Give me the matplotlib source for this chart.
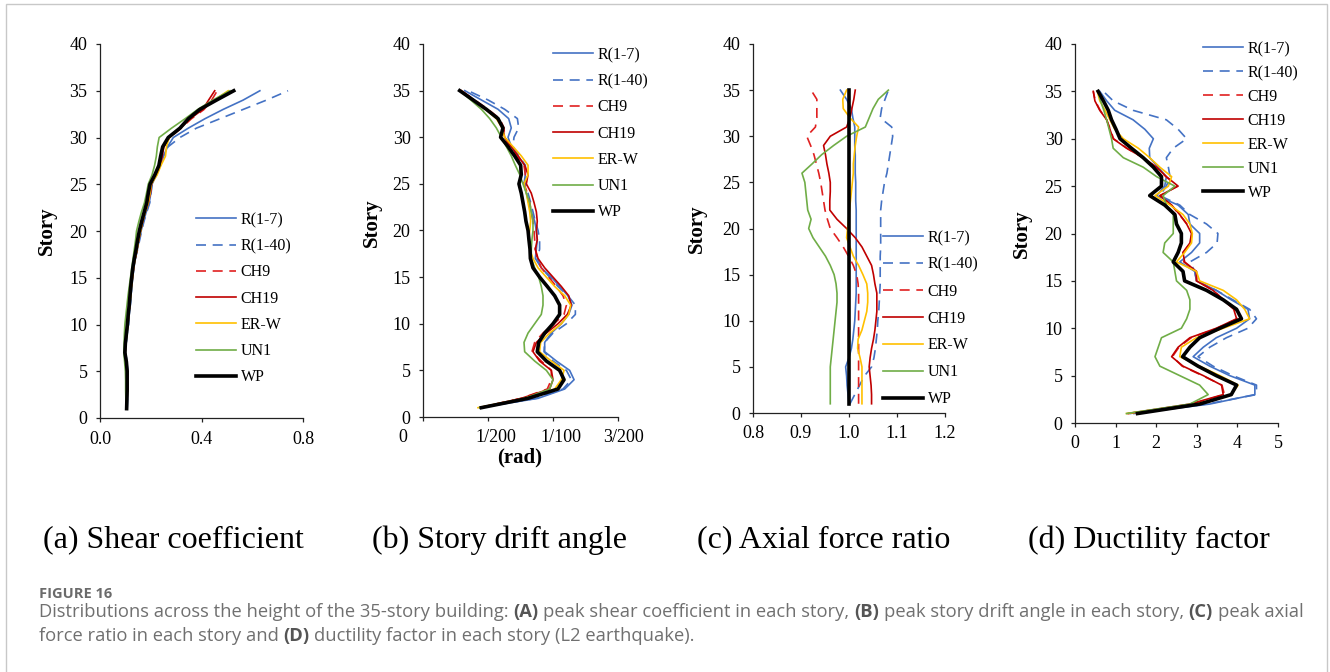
import numpy as np
import matplotlib
matplotlib.use("Agg")
from matplotlib import pyplot as plt
from matplotlib import patches, transforms

# ---------------------------------------------------------------------------------------------------- #
# Data, story 1 .. 35

stories = list(range(1, 36))
series_names = ["R(1-7)", "R(1-40)", "CH9", "CH19", "ER-W", "UN1", "WP"]

# (a) peak shear coefficient
shear_r17 = [0.107, 0.108, 0.109, 0.109, 0.109, 0.106, 0.101, 0.103, 0.107, 0.112, 0.115, 0.119, 0.122, 0.125, 0.129,
             0.133, 0.139, 0.147, 0.154, 0.162, 0.171, 0.182, 0.194, 0.200, 0.205, 0.222, 0.238, 0.250, 0.266, 0.289,
             0.348, 0.413, 0.485, 0.564, 0.630]
shear_r140 = [0.107, 0.108, 0.109, 0.109, 0.109, 0.106, 0.101, 0.103, 0.107, 0.112, 0.115, 0.119, 0.122, 0.125, 0.129,
              0.133, 0.139, 0.148, 0.156, 0.164, 0.173, 0.184, 0.196, 0.201, 0.205, 0.222, 0.238, 0.250, 0.268, 0.315,
              0.380, 0.472, 0.564, 0.656, 0.741]
shear_ch9 = [0.106, 0.107, 0.108, 0.108, 0.108, 0.105, 0.099, 0.101, 0.105, 0.110, 0.113, 0.117, 0.120, 0.123, 0.128,
             0.132, 0.138, 0.146, 0.152, 0.160, 0.168, 0.178, 0.190, 0.198, 0.203, 0.220, 0.236, 0.245, 0.250, 0.275,
             0.320, 0.360, 0.410, 0.440, 0.462]
shear_ch19 = [0.106, 0.107, 0.108, 0.108, 0.108, 0.105, 0.099, 0.101, 0.105, 0.110, 0.113, 0.117, 0.120, 0.123, 0.128,
              0.132, 0.138, 0.146, 0.152, 0.160, 0.168, 0.178, 0.190, 0.198, 0.203, 0.220, 0.236, 0.245, 0.252, 0.272,
              0.318, 0.355, 0.405, 0.428, 0.452]
shear_erw = [0.106, 0.107, 0.108, 0.108, 0.108, 0.105, 0.100, 0.102, 0.106, 0.110, 0.113, 0.117, 0.121, 0.124, 0.128,
             0.132, 0.138, 0.146, 0.152, 0.160, 0.168, 0.178, 0.190, 0.197, 0.202, 0.225, 0.240, 0.258, 0.262, 0.272,
             0.315, 0.350, 0.395, 0.450, 0.505]
shear_un1 = [0.102, 0.102, 0.101, 0.101, 0.100, 0.097, 0.094, 0.095, 0.096, 0.098, 0.102, 0.106, 0.110, 0.115, 0.120,
             0.125, 0.130, 0.135, 0.140, 0.144, 0.153, 0.163, 0.175, 0.183, 0.190, 0.205, 0.215, 0.222, 0.226, 0.233,
             0.282, 0.335, 0.385, 0.445, 0.512]
shear_wp = [0.105, 0.106, 0.107, 0.107, 0.107, 0.104, 0.098, 0.100, 0.104, 0.108, 0.111, 0.115, 0.118, 0.121, 0.125,
            0.129, 0.135, 0.142, 0.148, 0.155, 0.164, 0.174, 0.184, 0.190, 0.197, 0.216, 0.232, 0.239, 0.247, 0.269,
            0.315, 0.348, 0.393, 0.459, 0.527]

# (b) peak story drift angle, in 1/1000 rad
drift_r17 = [4.36, 8.85, 10.90, 11.62, 11.28, 10.26, 9.36, 9.36, 9.87, 10.64, 11.21, 11.46, 11.15, 10.51, 9.87,
             9.10, 8.64, 8.72, 8.79, 8.72, 8.59, 8.33, 8.13, 7.95, 7.77, 7.87, 7.82, 7.31, 6.79, 6.54,
             6.79, 6.59, 5.77, 4.49, 3.21]
drift_r140 = [4.36, 8.72, 10.77, 11.41, 11.03, 10.00, 9.31, 9.36, 10.00, 11.03, 11.72, 11.72, 11.15, 10.38, 9.74,
              9.10, 8.79, 8.97, 8.97, 8.85, 8.64, 8.46, 8.28, 8.08, 7.87, 7.95, 7.87, 7.36, 6.92, 7.00,
              7.36, 7.26, 6.28, 5.00, 3.46]
drift_ch9 = [4.36, 7.56, 9.56, 9.87, 9.87, 9.10, 8.38, 8.59, 9.23, 10.08, 10.85, 11.03, 10.77, 10.26, 9.67,
             9.10, 8.79, 8.64, 8.59, 8.54, 8.46, 8.33, 8.21, 8.03, 7.77, 7.87, 7.77, 7.18, 6.67, 6.28,
             6.23, 5.90, 5.00, 3.97, 2.95]
drift_ch19 = [4.36, 7.56, 9.74, 10.00, 9.87, 8.97, 8.46, 8.72, 9.49, 10.38, 11.10, 11.41, 11.21, 10.64, 10.00,
              9.36, 8.85, 8.64, 8.79, 8.72, 8.79, 8.72, 8.54, 8.33, 7.95, 8.08, 7.82, 7.31, 6.79, 6.28,
              6.15, 5.77, 4.87, 3.92, 2.95]
drift_erw = [4.23, 7.82, 10.13, 10.64, 10.85, 9.87, 8.97, 9.05, 9.74, 10.64, 11.21, 11.36, 10.90, 10.13, 9.49,
             8.85, 8.46, 8.21, 8.13, 8.21, 8.28, 8.21, 8.08, 7.95, 7.77, 8.08, 8.08, 7.56, 6.92, 6.28,
             6.08, 5.64, 4.79, 3.85, 2.90]
drift_un1 = [4.36, 7.82, 9.74, 10.00, 9.49, 8.59, 7.82, 7.77, 8.08, 8.59, 9.10, 9.23, 9.23, 9.10, 8.90,
             8.59, 8.33, 8.33, 8.38, 8.46, 8.46, 8.33, 8.21, 7.95, 7.69, 7.44, 7.10, 6.79, 6.41, 6.03,
             5.64, 5.13, 4.49, 3.67, 2.82]
drift_wp = [4.49, 8.08, 10.38, 10.85, 10.51, 9.49, 8.79, 8.90, 9.36, 10.00, 10.51, 10.51, 10.13, 9.56, 8.97,
            8.46, 8.26, 8.23, 8.15, 8.08, 7.92, 7.82, 7.69, 7.56, 7.38, 7.56, 7.51, 7.05, 6.54, 5.97,
            6.15, 5.77, 4.87, 3.85, 2.82]
drift_ticks = [0, 5, 10, 15]
drift_tick_labels = ["0", "1/200", "1/100", "3/200"]

# (c) peak axial force ratio
axial_r17 = [1.000, 0.998, 0.996, 0.995, 0.993, 1.000, 1.005, 1.008, 1.010, 1.012, 1.013, 1.014, 1.015, 1.015, 1.015,
             1.015, 1.015, 1.015, 1.015, 1.015, 1.015, 1.015, 1.014, 1.014, 1.014, 1.013, 1.013, 1.013, 1.012, 1.012,
             1.012, 1.008, 1.005, 0.995, 0.982]
axial_r140 = [1.002, 1.012, 1.022, 1.032, 1.047, 1.052, 1.055, 1.057, 1.059, 1.060, 1.062, 1.063, 1.064, 1.065, 1.065,
              1.065, 1.065, 1.066, 1.066, 1.066, 1.066, 1.066, 1.068, 1.071, 1.074, 1.079, 1.082, 1.085, 1.088, 1.091,
              1.089, 1.065, 1.068, 1.075, 1.082]
axial_ch9 = [1.020, 1.020, 1.020, 1.020, 1.020, 1.020, 1.020, 1.020, 1.020, 1.020, 1.020, 1.020, 1.020, 1.019, 1.016,
             1.009, 0.999, 0.988, 0.975, 0.961, 0.955, 0.950, 0.947, 0.944, 0.941, 0.937, 0.932, 0.927, 0.920, 0.912,
             0.930, 0.933, 0.933, 0.933, 0.921]
axial_ch19 = [1.047, 1.047, 1.046, 1.044, 1.042, 1.044, 1.047, 1.051, 1.054, 1.056, 1.058, 1.058, 1.058, 1.054, 1.051,
              1.047, 1.037, 1.027, 1.013, 0.995, 0.975, 0.960, 0.960, 0.961, 0.961, 0.958, 0.954, 0.951, 0.947, 0.961,
              0.995, 1.002, 1.006, 1.010, 1.013]
axial_erw = [1.027, 1.027, 1.027, 1.027, 1.027, 1.023, 1.018, 1.019, 1.027, 1.032, 1.037, 1.039, 1.039, 1.037, 1.029,
             1.020, 1.009, 1.002, 0.995, 0.997, 0.999, 1.001, 1.003, 1.005, 1.007, 1.009, 1.009, 1.011, 1.013, 1.016,
             1.020, 1.002, 0.988, 0.987, 0.995]
axial_un1 = [0.961, 0.961, 0.961, 0.961, 0.961, 0.963, 0.965, 0.967, 0.969, 0.971, 0.973, 0.975, 0.975, 0.973, 0.969,
             0.961, 0.951, 0.938, 0.925, 0.916, 0.921, 0.914, 0.912, 0.910, 0.908, 0.902, 0.923, 0.943, 0.968, 0.995,
             1.034, 1.042, 1.050, 1.061, 1.082]
axial_wp = [1.000] * 35

# (d) ductility factor
duct_r17 = [1.45, 3.32, 4.43, 4.43, 3.81, 3.32, 2.91, 3.16, 3.48, 3.98, 4.30, 4.26, 3.85, 3.48, 2.99,
            2.95, 2.58, 2.87, 3.07, 3.07, 2.83, 2.79, 2.54, 2.01, 2.21, 2.25, 2.05, 1.84, 1.83, 1.93,
            1.72, 1.43, 0.98, 0.78, 0.61]
duct_r140 = [1.35, 3.24, 4.47, 4.47, 3.89, 3.40, 3.03, 3.32, 3.73, 4.26, 4.47, 4.30, 3.89, 3.48, 2.99,
             2.95, 2.83, 3.24, 3.50, 3.52, 3.24, 2.83, 2.58, 2.09, 2.25, 2.34, 2.30, 2.25, 2.42, 2.75,
             2.54, 2.25, 1.43, 0.94, 0.70]
duct_ch9 = [1.31, 2.88, 3.68, 3.62, 3.14, 2.64, 2.40, 2.56, 2.86, 3.50, 3.99, 3.93, 3.66, 3.41, 3.00,
            2.99, 2.68, 2.66, 2.84, 2.88, 2.76, 2.57, 2.37, 2.10, 2.52, 2.24, 2.00, 1.67, 1.28, 0.95,
            0.87, 0.78, 0.62, 0.50, 0.45]
duct_ch19 = [1.31, 2.83, 3.65, 3.61, 3.16, 2.66, 2.38, 2.54, 2.83, 3.48, 3.98, 3.91, 3.65, 3.40, 2.99,
             2.99, 2.70, 2.66, 2.83, 2.87, 2.75, 2.58, 2.38, 2.09, 2.54, 2.25, 2.01, 1.68, 1.27, 0.94,
             0.86, 0.78, 0.61, 0.49, 0.45]
duct_erw = [1.27, 2.99, 3.85, 4.02, 3.57, 3.07, 2.58, 2.62, 2.99, 3.65, 4.30, 4.18, 3.98, 3.65, 3.07,
            2.99, 2.50, 2.70, 2.87, 2.89, 2.83, 2.66, 2.34, 1.97, 2.30, 2.38, 2.09, 1.84, 1.56, 1.19,
            0.98, 0.86, 0.74, 0.61, 0.55]
duct_un1 = [1.27, 2.83, 3.28, 3.07, 2.58, 2.09, 1.97, 2.05, 2.13, 2.62, 2.75, 2.83, 2.83, 2.75, 2.50,
            2.46, 2.42, 2.17, 2.21, 2.42, 2.42, 2.42, 2.25, 2.17, 2.46, 2.01, 1.68, 1.19, 0.94, 0.90,
            0.84, 0.78, 0.71, 0.63, 0.57]
duct_wp = [1.54, 3.07, 3.85, 3.98, 3.48, 3.03, 2.65, 2.83, 3.07, 3.57, 4.10, 3.98, 3.65, 3.24, 2.70,
           2.66, 2.42, 2.54, 2.62, 2.62, 2.50, 2.46, 2.21, 1.84, 2.13, 2.13, 1.93, 1.68, 1.39, 1.11,
           1.01, 0.90, 0.82, 0.70, 0.57]

# ---------------------------------------------------------------------------------------------------- #
# Styles

W, H = 1330, 672
SERIF = ["Liberation Serif", "DejaVu Serif"]
plt.rcParams["font.family"] = SERIF

styles = {
    "R(1-7)":  dict(color="#4472C4", lw=1.2, ls="-"),
    "R(1-40)": dict(color="#4472C4", lw=1.2, ls=(0, (6, 4))),
    "CH9":     dict(color="#E02020", lw=1.2, ls=(0, (6, 4))),
    "CH19":    dict(color="#C00000", lw=1.2, ls="-"),
    "ER-W":    dict(color="#FFC000", lw=1.2, ls="-"),
    "UN1":     dict(color="#70AD47", lw=1.2, ls="-"),
    "WP":      dict(color="black", lw=2.6, ls="-"),
}


def px_box(left, top, right, bottom):
    """Axes rectangle from pixel edges (origin top-left)."""
    return [left / W, 1 - bottom / H, (right - left) / W, (bottom - top) / H]


def setup_axes(ax, xlim, xticks, xlabels):
    ax.set_ylim(0, 40)
    ax.set_yticks(range(0, 41, 5))
    ax.set_xlim(*xlim)
    ax.set_xticks(xticks)
    ax.set_xticklabels(xlabels)
    for side in ["top", "right"]:
        ax.spines[side].set_visible(False)
    for side in ["left", "bottom"]:
        ax.spines[side].set_linewidth(0.9)
        ax.spines[side].set_color("#222222")
    ax.tick_params(direction="out", length=3, width=0.9, color="#222222", labelsize=13, pad=6)
    for lab in ax.get_xticklabels() + ax.get_yticklabels():
        lab.set_family(SERIF)
    ax.set_ylabel("Story", fontsize=15, fontweight="bold", family=SERIF)
    ax.patch.set_visible(False)


def draw_panel(ax, series, legend_xy, spacing):
    for name, values in zip(series_names, series):
        ax.plot(values, stories, label=name, **styles[name])
    lx, ly = legend_xy
    ax.legend(loc="upper left", bbox_to_anchor=(lx / W, 1 - ly / H), bbox_transform=fig.transFigure,
              frameon=False, prop=dict(family=SERIF, size=11.5), handlelength=2.5, handletextpad=0.3,
              labelspacing=spacing, borderpad=0, borderaxespad=0)


# ---------------------------------------------------------------------------------------------------- #
# Figure

fig = plt.figure(figsize=(W / 100, H / 100), dpi=100)

ax_a = fig.add_axes(px_box(100, 44, 303, 418))
setup_axes(ax_a, (0, 0.8), [0, 0.4, 0.8], ["0.0", "0.4", "0.8"])
draw_panel(ax_a, [shear_r17, shear_r140, shear_ch9, shear_ch19, shear_erw, shear_un1, shear_wp], (196, 212), 0.64)
ax_a.yaxis.set_label_coords((57 - 100) / 203, 0.5)

ax_b = fig.add_axes(px_box(423, 44, 618, 417))
setup_axes(ax_b, (0, 15), drift_ticks, drift_tick_labels)
draw_panel(ax_b, [drift_r17, drift_r140, drift_ch9, drift_ch19, drift_erw, drift_un1, drift_wp], (553, 47), 0.64)
ax_b.yaxis.set_label_coords((382 - 423) / 195, 0.52)
for lab, dx in zip(ax_b.get_xticklabels(), [-20, 8, 8, 6]):
    lab.set_transform(lab.get_transform() + transforms.ScaledTranslation(dx / 100, 0, fig.dpi_scale_trans))
fig.text(520 / W, 1 - 457 / H, "(rad)", fontsize=15, fontweight="bold", ha="center", va="center", family=SERIF)

ax_c = fig.add_axes(px_box(753, 44, 945, 413))
setup_axes(ax_c, (0.8, 1.2), [0.8, 0.9, 1.0, 1.1, 1.2], ["0.8", "0.9", "1.0", "1.1", "1.2"])
draw_panel(ax_c, [axial_r17, axial_r140, axial_ch9, axial_ch19, axial_erw, axial_un1, axial_wp], (883, 230), 0.68)
ax_c.yaxis.set_label_coords((707 - 753) / 192, 0.5)

ax_d = fig.add_axes(px_box(1075, 44, 1278, 423))
setup_axes(ax_d, (0, 5), range(0, 6), [str(i) for i in range(6)])
draw_panel(ax_d, [duct_r17, duct_r140, duct_ch9, duct_ch19, duct_erw, duct_un1, duct_wp], (1203, 41), 0.50)
ax_d.yaxis.set_label_coords((1032 - 1075) / 203, 0.5)

# panel captions
for cx, text in [(173, "(a) Shear coefficient"), (500, "(b) Story drift angle"),
                 (824, "(c) Axial force ratio"), (1149, "(d) Ductility factor")]:
    fig.text(cx / W, 1 - 540 / H, text, fontsize=23, ha="center", va="center", family=SERIF)

# border of the figure frame
fig.patches.append(patches.Rectangle((6 / W, -0.1), 1321 / W, 1.1 - 4 / H, transform=fig.transFigure,
                                     fill=False, edgecolor="#c8c8c8", lw=1.0))

# figure caption, with bold parts
cap_font = ["Open Sans", "DejaVu Sans"]
cap_size = 13.2
fig.text(39 / W, 1 - 594 / H, "FIGURE 16", fontsize=10.5, fontweight="bold", color="#6b6b6b",
         family=cap_font, va="center")

renderer = fig.canvas.get_renderer()


def text_width(s, weight):
    t = fig.text(0, 0, s, fontsize=cap_size, fontweight=weight, family=cap_font)
    w = t.get_window_extent(renderer).width
    t.remove()
    return w


space_w = text_width("a a", "normal") - text_width("aa", "normal")

caption_lines = [
    [("Distributions across the height of the 35-story building:", "normal"), ("(A)", "bold"),
     ("peak shear coefficient in each story,", "normal"), ("(B)", "bold"),
     ("peak story drift angle in each story,", "normal"), ("(C)", "bold"), ("peak axial", "normal")],
    [("force ratio in each story and", "normal"), ("(D)", "bold"),
     ("ductility factor in each story (L2 earthquake).", "normal")],
]
for line, cy in zip(caption_lines, [612, 636]):
    x = 39
    for s, weight in line:
        color = "#555555" if weight == "bold" else "#707070"
        fig.text(x / W, 1 - cy / H, s, fontsize=cap_size, fontweight=weight, color=color, family=cap_font,
                 va="center")
        x += text_width(s, weight) + space_w

fig.savefig("out.png", dpi=100)
